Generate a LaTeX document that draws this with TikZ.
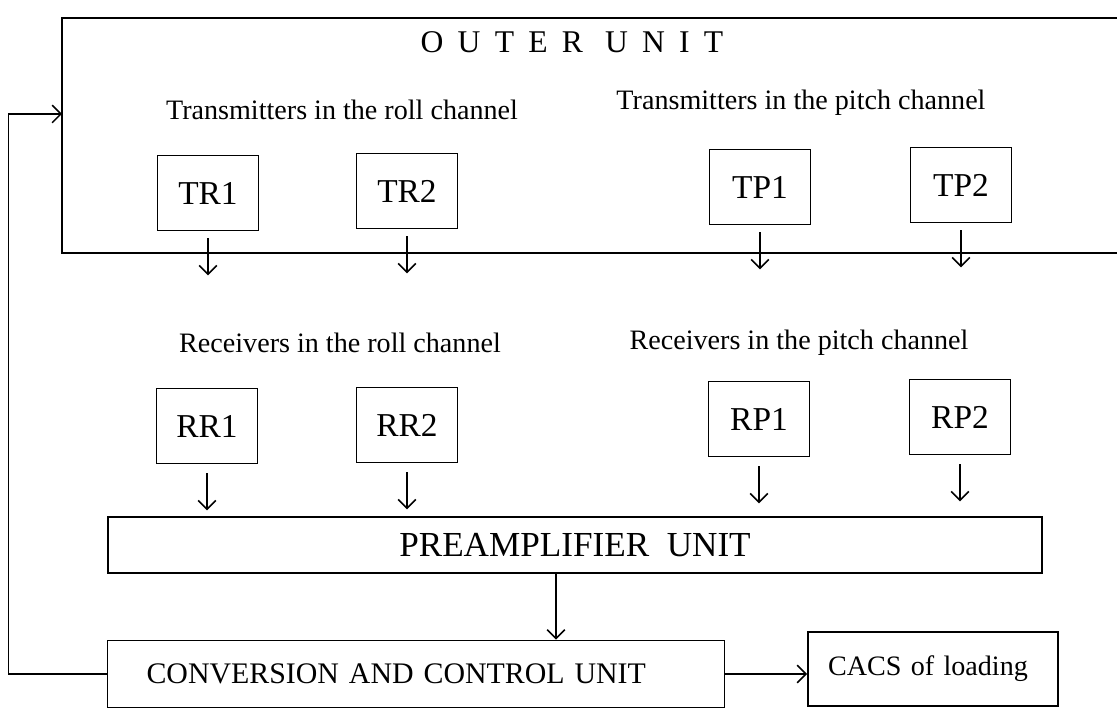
\documentclass[tikz,border=0pt]{standalone}
\usepackage{fontspec}
\setmainfont{Liberation Serif}
\usetikzlibrary{arrows.meta}

\begin{document}
\begin{tikzpicture}[x=0.02cm,y=-0.02cm,line width=1pt,
    >={Straight Barb[length=5pt,width=10pt]},
    blk/.style={draw,minimum width=2.02cm,minimum height=1.5cm,font=\fontsize{19}{22}\selectfont},
    chan/.style={font=\fontsize{16}{19}\selectfont},
    arr/.style={->,line width=0.9pt}]
    \useasboundingbox (0,0) rectangle (1117,712);

    % outer unit (open to the right)
    \draw (1117,18) -- (62,18) -- (62,253) -- (1117,253);
    \node[font=\fontsize{18}{22}\selectfont\addfontfeature{LetterSpace=45}] (outer) at (572,42) {OUTER\ UNIT};
    \node[chan] (troll) at (342,110) {Transmitters in the roll channel};
    \node[chan] (tpitch) at (801,103) {Transmitters in the pitch channel};
    \node[blk] (TR1) at (208,193) {TR1};
    \node[blk] (TR2) at (407,191) {TR2};
    \node[blk] (TP1) at (760,187) {TP1};
    \node[blk] (TP2) at (961,185) {TP2};

    \node[chan] (rroll) at (340,343) {Receivers in the roll channel};
    \node[chan] (rpitch) at (799,343) {Receivers in the pitch channel};
    \node[blk] (RR1) at (207,426) {RR1};
    \node[blk] (RR2) at (407,425) {RR2};
    \node[blk] (RP1) at (759,419) {RP1};
    \node[blk] (RP2) at (960,417) {RP2};

    \foreach \b in {TR1,TR2,TP1,TP2}
        \draw[arr] (\b.south) ++(0,7) -- ++(0,37);
    \foreach \b in {RR1,RR2,RP1,RP2}
        \draw[arr] (\b.south) ++(0,9) -- ++(0,37);

    \node[draw,minimum width=18.68cm,minimum height=1.12cm,font=\fontsize{20}{24}\selectfont] (pre) at (575,545) {PREAMPLIFIER\ \ UNIT};
    \node[draw,minimum height=1.34cm,text width=10.78cm,inner xsep=0.78cm,align=left,font=\fontsize{17}{20}\selectfont] (conv) at (416,674) {CONVERSION AND CONTROL UNIT};
    \node[draw,minimum height=1.48cm,text width=4.2cm,inner xsep=0.4cm,align=left,font=\fontsize{16}{19}\selectfont] (cacs) at (933,669) {CACS of loading};

    \coordinate (pa) at (556,0);
    \coordinate (fb) at (62,114);
    \draw[arr] (pre.south -| pa) -- (conv.north -| pa);
    \draw[arr] (conv.east) -- (conv.east -| cacs.west);
    \draw[arr] (conv.west) -- ++(-98,0) |- (fb);
\end{tikzpicture}
\end{document}
